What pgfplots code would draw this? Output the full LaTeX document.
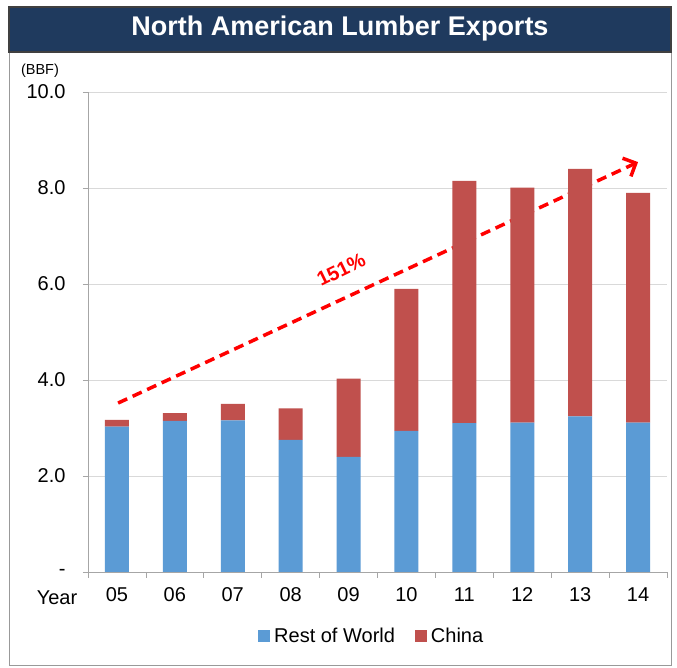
\documentclass[border=0pt]{standalone}
\usepackage{pgfplots}
\pgfplotsset{compat=1.18}
\usepackage{fontspec}
\setmainfont{Liberation Sans}
\usetikzlibrary{arrows.meta}
\definecolor{rowblue}{RGB}{91,155,213}
\definecolor{chinared}{RGB}{192,80,77}
\definecolor{navy}{RGB}{31,58,94}
\begin{document}
\begin{tikzpicture}[x=1pt,y=1pt]
\useasboundingbox (0,0) rectangle (677,668);
\fill[white] (0,0) rectangle (677,668);
\draw[gray!80, line width=1pt] (9,2) rectangle (671,661);
\fill[navy] (9,616) rectangle (671,661);
\draw[black!75, line width=1.2pt] (9,616) rectangle (671,661);
\node[text=white, font=\fontsize{27}{30}\selectfont\bfseries] at (340,639) {North American Lumber Exports};
\node[font=\fontsize{14.5}{16}\selectfont] at (40,597) {(BBF)};
\node[font=\fontsize{20}{22}\selectfont] at (57,70) {Year};
\begin{axis}[
  at={(88pt,96pt)}, anchor=south west,
  scale only axis, width=579pt, height=480pt,
  ybar stacked, bar width=24pt,
  xmin=-0.5, xmax=9.5, ymin=0, ymax=10,
  axis x line*=bottom, axis y line*=left,
  axis line style={gray!70, line width=0.8pt},
  xtick={0,...,9},
  xticklabels={05,06,07,08,09,10,11,12,13,14},
  minor xtick={-0.5,0.5,...,9.5},
  major x tick style={draw=none},
  minor x tick style={gray!70, line width=0.8pt},
  minor tick length=6pt,
  ytick={0,2,4,6,8,10},
  yticklabels={-,2.0,4.0,6.0,8.0,10.0},
  major tick length=5pt,
  y tick style={gray!70, line width=0.8pt},
  tick align=outside,
  ymajorgrids, grid style={gray!30, line width=0.8pt},
  ticklabel style={font=\fontsize{20}{22}\selectfont},
  xticklabel style={yshift=-7pt},
  yticklabel style={xshift=-14pt},
  legend columns=2,
  legend style={draw=none, at={(0.49,-0.133)}, anchor=center,
    font=\fontsize{20}{22}\selectfont,
    /tikz/every odd column/.append style={column sep=2pt},
    /tikz/every even column/.append style={column sep=18pt}},
  legend image code/.code={\fill[#1,draw=none] (0pt,-6pt) rectangle (12pt,6pt);},
]
\addplot[fill=rowblue, draw=none] coordinates {
 (0,3.03) (1,3.15) (2,3.16) (3,2.75) (4,2.40) (5,2.94) (6,3.10) (7,3.11) (8,3.24) (9,3.11)};
\addplot[fill=chinared, draw=none] coordinates {
 (0,0.14) (1,0.16) (2,0.34) (3,0.66) (4,1.63) (5,2.96) (6,5.05) (7,4.90) (8,5.16) (9,4.79)};
\legend{Rest of World, China}
\draw[red, line width=3.5pt, dash pattern=on 10pt off 6pt, -{Straight Barb[length=10pt,width=20pt,line width=3.5pt]}]
  (axis cs:0.02,3.52) -- (axis cs:9.0,8.54);
\node[text=red, rotate=26, font=\fontsize{20}{24}\selectfont\bfseries] at (axis cs:3.87,6.30) {151\%};
\end{axis}
\end{tikzpicture}
\end{document}
